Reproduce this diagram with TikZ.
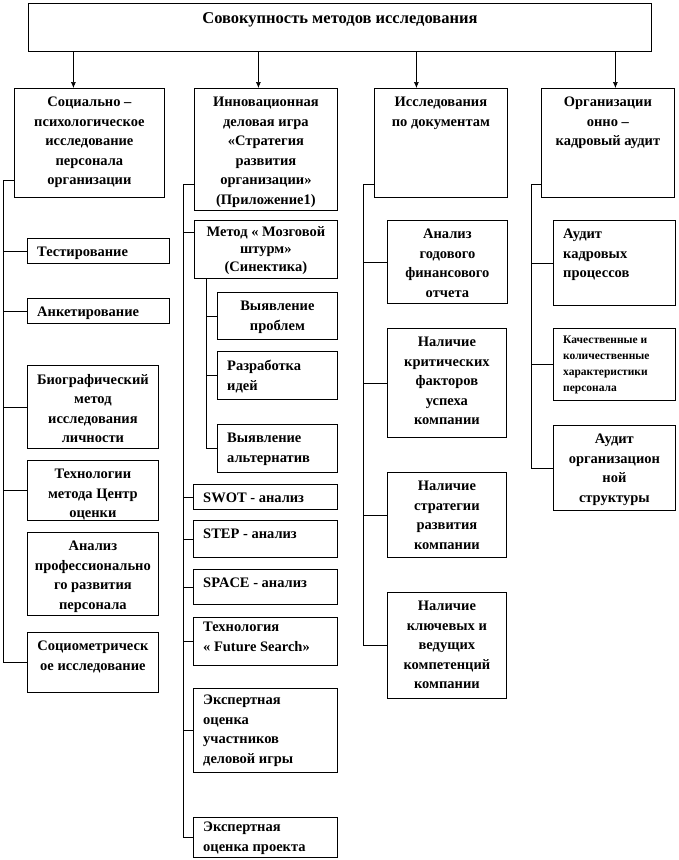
\documentclass[tikz,border=0pt]{standalone}
\usepackage{fontspec}
\setmainfont{Liberation Serif}
\usetikzlibrary{arrows.meta}
% box with centred text: name, x1, y1, x2, y2, text
\newcommand{\blk}[6]{%
	\node[box, minimum width={#4-#2}, minimum height={#5-#3}] (#1) at (#2,#3) {};
	\node[txt, anchor=north, align=center] (#1-t) at ([yshift=-9pt]#1.north) {#6};}
% box with text set to the left, optional shift of the text
\newcommand{\blkl}[7][-9pt]{%
	\node[box, minimum width={#5-#3}, minimum height={#6-#4}] (#2) at (#3,#4) {};
	\node[txt, anchor=north west, align=left] (#2-t) at ([xshift=10pt,yshift=#1]#2.north west) {#7};}

\begin{document}
\begin{tikzpicture}[x=1pt, y=-1pt,
	box/.style={draw, line width=0.8pt, anchor=north west, inner sep=0pt},
	txt/.style={inner sep=0pt, font=\fontsize{14.5}{19.5}\selectfont\bfseries},
	small/.style={font=\fontsize{11.5}{16}\selectfont\bfseries},
	link/.style={line width=0.6pt},
	arr/.style={line width=0.6pt, -{Latex[length=6pt,width=5pt]}}]
	\useasboundingbox (0,0) rectangle (678,860);
	\node[box, minimum width=623, minimum height=48] (top) at (28,3) {};
	\node[txt, font=\fontsize{16.5}{19.5}\selectfont\bfseries, anchor=north] (top-t) at ([yshift=-9pt]top.north) {Совокупность методов исследования};
%
	\blk{soc}{14}{88}{164}{197}{Социально –\\психологическое\\исследование\\персонала\\организации}
	\blk{inn}{194}{88}{337}{210}{Инновационная\\деловая игра\\«Стратегия\\развития\\организации»\\(Приложение1)}
	\blk{doc}{374}{88}{507}{197}{Исследования\\по документам}
	\blk{kadr}{541}{88}{674}{197}{Организации\\онно –\\кадровый аудит}
%
	\coordinate (soc-in) at ([xshift=-16pt]soc.north);
	\coordinate (inn-in) at ([xshift=-7.5pt]inn.north);
	\coordinate (doc-in) at ([xshift=-24.5pt]doc.north);
	\coordinate (kadr-in) at ([xshift=7.5pt]kadr.north);
	\foreach \n in {soc,inn,doc,kadr}
		\draw[arr] (top.south -| \n-in) -- (\n-in);
%
	\blkl{test}{27}{238}{169}{263}{Тестирование}
	\blkl{anket}{27}{298}{169}{323}{Анкетирование}
	\blk{bio}{27}{365}{158}{448}{Биографический\\метод\\исследования\\личности}
	\blk{centr}{27}{460}{158}{520}{Технологии\\метода Центр\\оценки}
	\blk{prof}{27}{532}{158}{615}{Анализ\\профессионально\\го развития\\персонала}
	\blk{socio}{27}{632}{158}{692}{Социометрическ\\ое исследование}
	\coordinate (sa) at (3,180);
	\draw[link] (soc.west |- sa) -- (sa) |- (socio.west);
	\foreach \n in {test,anket,bio,centr}
		\draw[link] (sa) |- (\n.west);
%
	\node[box, minimum width=143, minimum height=58] (brain) at (194,220) {};
	\node[txt, anchor=north, align=center] (brain-t) at ([yshift=-6pt]brain.north) {Метод « Мозговой\\[-2pt]штурм»\\[-2pt](Синектика)};
	\blk{probl}{217}{292}{337}{339}{Выявление\\проблем}
	\blkl{idea}{217}{351}{337}{399}{Разработка\\идей}
	\blkl{alt}{217}{424}{337}{472}{Выявление\\альтернатив}
	\blkl{swot}{193}{484}{337}{509}{SWOT - анализ}
	\blkl{step}{193}{520}{337}{557}{STEP - анализ}
	\blkl{space}{193}{569}{337}{604}{SPACE - анализ}
	\blkl[-5pt]{future}{193}{617}{337}{665}{Технология\\ « Future Search»}
	\blkl[-7pt]{expu}{193}{688}{337}{772}{Экспертная\\оценка\\участников\\деловой игры}
	\blkl[-5pt]{expp}{193}{817}{337}{857}{Экспертная\\оценка проекта}
	\coordinate (sb) at (183,184);
	\draw[link] (inn.west |- sb) -- (sb) |- (expp.west);
	\draw[link] (sb) |- ([yshift=-12pt]brain.north west);
	\foreach \n in {swot,step,space,future,expu}
		\draw[link] (sb) |- (\n.west);
	\coordinate (sbb) at ([xshift=12pt]brain.south west);
	\draw[link] (sbb) |- (alt.west);
	\foreach \n in {probl,idea}
		\draw[link] (sbb) |- (\n.west);
%
	\blk{god}{387}{220}{507}{303}{Анализ\\годового\\финансового\\отчета}
	\blk{krit}{387}{328}{506}{437}{Наличие\\критических\\факторов\\успеха\\компании}
	\blk{strat}{387}{472}{506}{557}{Наличие\\стратегии\\развития\\компании}
	\blk{kompet}{387}{592}{506}{698}{Наличие\\ключевых и\\ведущих\\компетенций\\компании}
	\coordinate (sc) at (363,184);
	\draw[link] (doc.west |- sc) -- (sc) |- (kompet.west);
	\foreach \n in {god,krit,strat}
		\draw[link] (sc) |- (\n.west);
%
	\blkl{audk}{553}{220}{675}{305}{Аудит\\кадровых\\процессов}
	\node[box, minimum width=122, minimum height=72] (harakt) at (553,328) {};
	\node[txt, small, anchor=north west, align=left] (harakt-t) at ([xshift=10pt,yshift=-8pt]harakt.north west) {Качественные и\\количественные\\характеристики\\персонала};
	\blk{audo}{553}{425}{675}{510}{Аудит\\организацион\\ной\\структуры}
	\coordinate (sd) at (531,184);
	\draw[link] (kadr.west |- sd) -- (sd) |- (audo.west);
	\foreach \n in {audk,harakt}
		\draw[link] (sd) |- (\n.west);
\end{tikzpicture}
\end{document}
